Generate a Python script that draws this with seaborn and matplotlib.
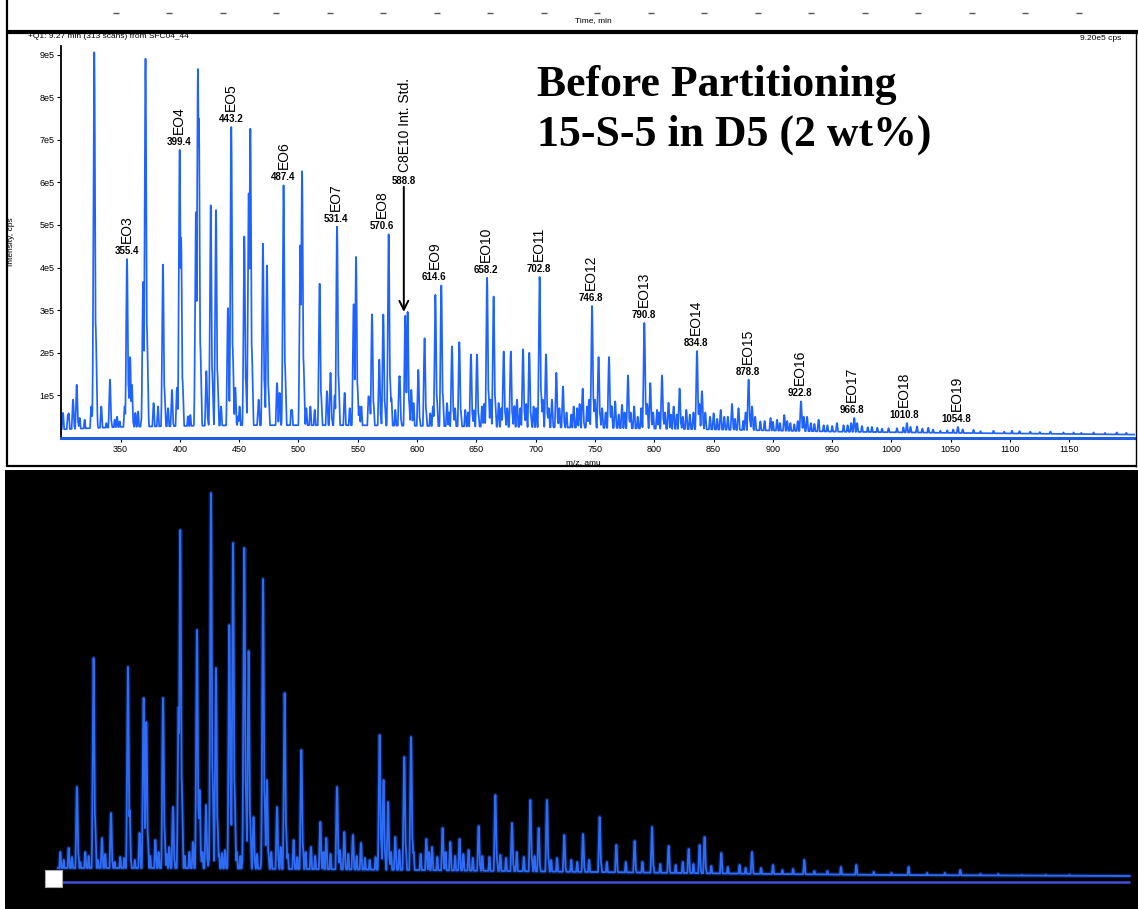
import numpy as np
import matplotlib
matplotlib.use('Agg')
import matplotlib.pyplot as plt
import seaborn as sns
from matplotlib.lines import Line2D
from matplotlib.patches import Rectangle

sns.set_style('white')
plt.rcParams['font.family'] = ['Liberation Sans', 'DejaVu Sans']
plt.rcParams['text.color'] = 'black'
plt.rcParams['axes.labelcolor'] = 'black'
plt.rcParams['xtick.color'] = 'black'
plt.rcParams['ytick.color'] = 'black'

# ---- top spectrum: peak list (m/z, intensity in 1e5 cps)
top_mz = [306.2, 313.0, 327.8, 333.7, 341.0, 347.0, 355.4, 358.0, 359.5, 362.4,
          369.0, 371.0, 377.8, 385.7, 393.3, 397.5, 399.8, 401.0, 408.8, 413.5,
          415.2, 416.0, 422.3, 426.0, 430.4, 434.7, 440.5, 443.3, 446.7, 450.3,
          454.3, 458.0, 459.4, 466.4, 470.0, 473.4, 481.9, 487.4, 494.5, 501.5,
          503.0, 510.0, 517.8, 524.0, 527.0, 532.5, 538.9, 546.5, 548.5, 551.3,
          559.1, 562.0, 568.1, 571.5, 576.0, 581.6, 585.0, 590.0, 592.0, 597.0,
          601.0, 606.3, 611.1, 615.4, 620.4, 625.2, 629.4, 635.6, 640.6, 645.4,
          650.5, 654.7, 659.0, 664.5, 668.7, 673.0, 679.0, 684.2, 689.3, 694.6,
          698.2, 703.3, 708.7, 713.7, 717.4, 723.0, 732.0, 739.6, 743.3, 747.5,
          753.0, 761.8, 767.0, 772.8, 777.8, 783.0, 791.6, 796.6, 802.3, 806.5,
          812.0, 816.3, 821.3, 827.0, 836.0, 840.2, 850.0, 856.0, 865.5, 871.0,
          879.5, 882.4, 889.4, 898.0, 903.5, 909.6, 914.7, 923.7, 928.8, 938.5,
          942.8, 954.0, 959.6, 968.6, 975.1, 983.5, 997.5, 1004.6, 1013.0, 1021.5,
          1031.0, 1041.1, 1056.0, 1069.2, 1086.0, 1101.6, 1117.0, 1134.0, 1153.5, 1170.4,
          1190.0]
top_int = [0.58, 1.25, 9.05, 0.74, 1.37, 0.50, 4.20, 1.90, 1.25, 0.59,
           3.66, 8.90, 0.82, 4.07, 1.13, 1.18, 6.76, 4.70, 0.54, 5.30,
           8.66, 7.50, 1.57, 5.46, 5.35, 0.74, 3.05, 7.30, 1.18, 0.74,
           4.73, 5.74, 7.26, 0.90, 4.56, 4.05, 1.29, 5.93, 0.66, 4.52,
           6.26, 0.74, 3.62, 1.10, 1.53, 4.96, 1.06, 3.14, 4.25, 0.74,
           0.98, 2.90, 1.84, 2.90, 4.78, 0.66, 1.44, 2.87, 2.96, 0.82,
           1.60, 2.34, 0.58, 3.36, 3.58, 0.82, 2.15, 2.25, 0.66, 1.96,
           1.96, 0.74, 3.76, 3.32, 0.82, 2.03, 2.03, 0.90, 2.08, 2.00,
           0.74, 3.78, 1.96, 0.90, 1.53, 1.21, 0.74, 1.16, 0.74, 3.10,
           1.90, 1.90, 0.86, 0.78, 1.47, 0.74, 2.70, 1.29, 0.66, 1.47,
           0.83, 0.74, 1.16, 0.66, 2.04, 1.10, 0.58, 0.66, 0.80, 0.70,
           1.37, 0.74, 0.39, 0.47, 0.43, 0.54, 0.35, 0.86, 0.50, 0.43,
           0.30, 0.35, 0.30, 0.47, 0.28, 0.26, 0.23, 0.23, 0.35, 0.27,
           0.24, 0.17, 0.26, 0.19, 0.17, 0.17, 0.15, 0.15, 0.13, 0.13,
           0.13]
# small bumps of the noisy floor (same units)
noise_mz = [301.4, 305.6, 309.9, 315.5, 319.7, 325.3, 338.0, 345.0, 349.2, 353.4,
            364.7, 367.5, 381.5, 390.0, 406.8, 412.5, 449.0, 465.9, 484.1, 493.9,
            506.6, 513.7, 530.5, 539.0, 543.2, 553.0, 560.0, 578.3, 585.3, 595.1,
            613.4, 627.0, 632.0, 643.0, 648.0, 656.5, 662.0, 671.0, 676.0, 682.0,
            687.0, 692.0, 700.5, 706.0, 711.0, 720.0, 726.0, 730.0, 735.0, 737.0,
            745.0, 750.0, 756.0, 759.0, 764.0, 770.0, 775.0, 780.0, 786.0, 789.0,
            794.0, 799.0, 804.0, 809.0, 814.0, 819.0, 824.0, 830.0, 833.0, 838.0,
            843.0, 847.0, 853.0, 859.0, 862.0, 868.0, 875.0, 877.0, 885.0, 893.0,
            900.0, 906.0, 912.0, 918.0, 921.0, 926.0, 932.0, 935.0, 946.0, 950.0,
            963.0, 966.0, 971.0, 980.0, 988.0, 992.0, 1010.0, 1016.0, 1026.0, 1035.0,
            1047.0, 1052.0, 1060.0, 1075.0, 1095.0, 1108.0, 1125.0, 1145.0, 1160.0, 1180.0,
            1198.0]
noise_int = [0.59, 0.55, 0.90, 0.47, 0.43, 0.74, 0.35, 0.43, 0.39, 0.74,
             0.62, 0.43, 0.74, 0.70, 0.51, 0.47, 0.51, 0.62, 1.06, 0.66,
             0.70, 0.66, 1.00, 0.90, 0.70, 0.74, 0.94, 0.94, 1.45, 1.13,
             0.74, 0.60, 0.70, 0.60, 0.65, 0.80, 0.90, 0.70, 0.70, 0.75,
             0.70, 0.80, 0.70, 0.90, 0.70, 0.70, 0.60, 0.55, 0.70, 0.80,
             0.90, 0.90, 0.70, 0.60, 0.75, 0.55, 0.60, 0.60, 0.50, 0.70,
             0.80, 0.60, 0.60, 0.60, 0.55, 0.55, 0.50, 0.55, 0.60, 0.80,
             0.60, 0.50, 0.45, 0.50, 0.50, 0.45, 0.40, 0.60, 0.50, 0.40,
             0.38, 0.35, 0.40, 0.32, 0.40, 0.50, 0.35, 0.33, 0.30, 0.28,
             0.30, 0.35, 0.35, 0.25, 0.24, 0.22, 0.25, 0.26, 0.22, 0.20,
             0.18, 0.20, 0.20, 0.16, 0.15, 0.16, 0.14, 0.13, 0.12, 0.12,
             0.12]
top_base_mz = [298, 350, 450, 550, 650, 750, 850, 950, 1050, 1206]
top_base = [0.20, 0.26, 0.30, 0.30, 0.27, 0.24, 0.20, 0.15, 0.12, 0.08]

eo_names = ['EO3', 'EO4', 'EO5', 'EO6', 'EO7', 'EO8', 'EO9', 'EO10', 'EO11',
            'EO12', 'EO13', 'EO14', 'EO15', 'EO16', 'EO17', 'EO18', 'EO19']
eo_mz = [355.4, 399.4, 443.2, 487.4, 531.4, 570.6, 614.6, 658.2, 702.8,
         746.8, 790.8, 834.8, 878.8, 922.8, 966.8, 1010.8, 1054.8]
std_name = 'C8E10 Int. Std.'
std_mz = 588.8

# ---- bottom spectrum (screen units above its baseline)
bot_mz = [299.2, 306.2, 313.2, 320.2, 327.2, 334.3, 341.9, 349.7, 356.2, 357.6,
          366.0, 369.4, 371.7, 379.3, 385.8, 394.2, 398.9, 400.3, 414.4, 416.6,
          422.0, 426.2, 430.4, 435.5, 441.7, 444.8, 454.3, 457.9, 462.1, 470.1,
          473.4, 481.9, 488.3, 495.9, 502.4, 510.5, 518.4, 523.4, 532.5, 538.6,
          545.9, 552.7, 568.4, 571.7, 575.5, 581.6, 589.2, 594.9, 607.8, 612.6,
          621.5, 628.0, 635.8, 643.4, 651.9, 666.0, 670.2, 680.0, 695.5, 702.5,
          709.5, 724.1, 739.9, 753.9, 768.0, 783.4, 798.1, 812.1, 829.0, 838.2,
          842.4, 856.5, 871.9, 882.4, 900.1, 926.5, 957.4, 970.3, 1014.4, 1058.0]
bot_int = [30, 34, 95, 30, 224, 44, 69, 25, 215, 72,
           49, 184, 160, 42, 184, 75, 175, 352, 252, 92,
           77, 389, 214, 29, 257, 339, 334, 231, 65, 303,
           102, 75, 189, 42, 132, 35, 60, 44, 95, 50,
           47, 39, 147, 102, 80, 45, 125, 145, 43, 35,
           54, 40, 43, 32, 56, 87, 27, 59, 82, 54,
           82, 47, 48, 65, 37, 41, 55, 36, 33, 37,
           45, 29, 17, 30, 17, 22, 15, 17, 15, 12]
bot_noise_mz = [302, 309, 316, 323, 331, 337, 345, 353, 362, 375,
                382, 389, 391, 404, 408, 411, 419, 433, 438, 448,
                451, 465, 477, 485, 491, 499, 506, 514, 521, 527,
                535, 542, 549, 556, 560, 565, 578, 585, 597, 603,
                610, 617, 624, 632, 639, 647, 655, 661, 675, 684,
                690, 699, 713, 718, 730, 735, 745, 760, 776, 790,
                805, 818, 824, 833, 848, 862, 877, 890, 908, 917,
                935, 946, 985, 1000, 1030, 1045, 1075, 1090, 1110, 1130,
                1150, 1170, 1190]
bot_noise_int = [22, 25, 20, 26, 22, 28, 20, 24, 22, 26,
                 30, 28, 35, 26, 30, 40, 30, 28, 32, 30,
                 26, 28, 30, 35, 28, 25, 30, 26, 30, 28,
                 32, 28, 26, 24, 22, 25, 30, 32, 30, 28,
                 30, 25, 30, 26, 28, 24, 26, 25, 24, 30,
                 25, 26, 22, 24, 22, 20, 22, 20, 20, 20,
                 18, 17, 20, 18, 16, 15, 14, 14, 12, 13,
                 11, 11, 10, 9, 9, 9, 8, 8, 7, 7,
                 7, 6, 6]
bot_base_mz = [297, 400, 600, 750, 900, 1000, 1201]
bot_base = [14, 14, 12, 10, 8, 7, 6]

time_ticks = [1, 2, 3, 4, 5, 6, 7, 8, 9, 10, 11, 12, 13, 14, 15, 16, 17, 18, 19]

W, H = 1138, 909


def fx(px):
    return px / W


def fy(py):
    return 1 - py / H


def profile(grid, mz, inten, base_mz, base, sigma):
    # narrow peak with an isotope shoulder and a short tail (apex stays at the listed height)
    mz = np.asarray(mz)[:, None]
    h = np.asarray(inten, dtype=float)[:, None]
    d = grid[None, :] - mz
    shape = np.maximum.reduce([np.exp(-0.5 * (d / sigma) ** 2),
                               0.3 * np.exp(-0.5 * ((d - 1.0) / (sigma * 1.3)) ** 2),
                               0.14 * np.exp(-np.abs(d) / 2.0)])
    peaks = (h * shape).max(axis=0)
    return np.maximum(np.interp(grid, base_mz, base), peaks)


def fline(x0, y0, x1, y1, lw, color='black'):
    fig.add_artist(Line2D([fx(x0), fx(x1)], [fy(y0), fy(y1)],
                          transform=fig.transFigure, color=color, lw=lw,
                          solid_capstyle='butt'))


fig = plt.figure(figsize=(W / 100, H / 100), dpi=100)
fig.patch.set_facecolor('white')

# ---------------- top panel
px_per_mz = 1.186
ax = fig.add_axes([fx(61.3), fy(438), (1135 - 61.3) / W, (438 - 46) / H])
grid = np.arange(298, 1205.3, 0.1)
spec = profile(grid, top_mz + noise_mz, top_int + noise_int,
               top_base_mz, top_base, 0.7) * 1e5
sns.lineplot(x=grid, y=spec, ax=ax, color='#1f63ff', linewidth=1.25,
             estimator=None, sort=False)
ax.set_xlim(300, 300 + (1135 - 61.3) / px_per_mz)
ax.set_ylim(0, 9.2e5)
ax.set_xticks(range(350, 1200, 50))
ax.set_xticklabels([str(v) for v in range(350, 1200, 50)])
ax.set_yticks([k * 1e5 for k in range(1, 10)])
ax.set_yticklabels([f'{k}e5' for k in range(1, 10)])
ax.tick_params(axis='both', direction='out', length=3, width=0.8, labelsize=6.5,
               pad=2, left=True, bottom=True, colors='black')
sns.despine(ax=ax)
ax.spines['left'].set_linewidth(1.3)
ax.spines['left'].set_color('black')
ax.spines['bottom'].set_color('#1f5fe0')
ax.spines['bottom'].set_linewidth(2.2)
ax.set_xlabel('m/z, amu', fontsize=6)
ax.set_ylabel('Intensity, cps', fontsize=6)
ax.xaxis.set_label_coords((583 - 61.3) / (1135 - 61.3), -(459 - 438) / (438 - 46))
ax.yaxis.set_label_coords(-(61.3 - 15) / (1135 - 61.3), 0.5)

top_mz_a = np.asarray(top_mz)
top_int_a = np.asarray(top_int) * 1e5


def local_top(m, win=6):
    sel = np.abs(top_mz_a - m) < win
    return top_int_a[sel].max()


for name, m in zip(eo_names, eo_mz):
    pk = local_top(m)
    ax.annotate(f'{m:.1f}', xy=(m, pk), xytext=(0, 5.8), textcoords='offset points',
                ha='center', va='center', fontsize=7, fontweight='bold')
    ax.annotate(name, xy=(m, pk), xytext=(0, 11.5), textcoords='offset points',
                rotation=90, ha='center', va='bottom', fontsize=10)

pk = local_top(std_mz)
ax.annotate('', xy=(std_mz, pk), xytext=(0, 90), textcoords='offset points',
            arrowprops=dict(arrowstyle='->', lw=1.4, color='black', mutation_scale=16,
                            shrinkA=0, shrinkB=0))
ax.annotate(f'{std_mz:.1f}', xy=(std_mz, pk), xytext=(0, 94.5), textcoords='offset points',
            ha='center', va='center', fontsize=7, fontweight='bold')
ax.annotate(std_name, xy=(std_mz, pk), xytext=(1, 101), textcoords='offset points',
            rotation=90, ha='center', va='bottom', fontsize=10)

fig.text(fx(537), fy(85), 'Before Partitioning', family='Liberation Serif',
         fontweight='bold', fontsize=31.5, va='center', ha='left', color='black')
fig.text(fx(537), fy(135), '15-S-5 in D5 (2 wt%)', family='Liberation Serif',
         fontweight='bold', fontsize=31.5, va='center', ha='left', color='black')
fig.text(fx(28), fy(37), '+Q1: 9.27 min (313 scans) from SFC04_44', fontsize=6,
         va='center', ha='left')
fig.text(fx(1121), fy(39), '9.20e5 cps', fontsize=6, va='center', ha='right')

# ---------------- strip of the chart above (time axis, cut off)
ax_t = fig.add_axes([fx(7), fy(31), (1138 - 7) / W, 31 / H])
ax_t.axis('off')
ax_t.set_xlim((7 - 62) / 53.5, (1138 - 62) / 53.5)
ax_t.set_ylim(0, 31)
ax_t.plot(time_ticks, [18] * len(time_ticks), ls='none', marker='_', ms=4.5, mew=1.0,
          color='#555555')
fig.text(fx(575), fy(21), 'Time, min', fontsize=6, va='center', ha='left')

# panel frame
fline(7, 0, 7, 467, 1.6)
fline(7, 31.5, 1138, 31.5, 3)
fline(7, 466, 1136, 466, 1.6)
fline(1136, 31, 1136, 467, 1.0)

# ---------------- bottom panel (dark screen capture)
ax_b = fig.add_axes([fx(5), fy(909), (1138 - 5) / W, (909 - 470) / H])
ax_b.set_facecolor('black')
grid_b = np.arange(297, 1201, 0.1)
spec_b = profile(grid_b, bot_mz + bot_noise_mz, bot_int + bot_noise_int,
                 bot_base_mz, bot_base, 0.7)
ax_b.plot(grid_b, spec_b, color='#1a3fa8', lw=3.2, alpha=0.45)
sns.lineplot(x=grid_b, y=spec_b, ax=ax_b, color='#2f6cf5', linewidth=1.3,
             estimator=None, sort=False)
ax_b.hlines(0, grid_b[0], grid_b[-1], color='#4150d6', lw=1.8)
ax_b.set_xlim(300 - (61.3 - 5) / px_per_mz, 300 + (1138 - 61.3) / px_per_mz)
ax_b.set_ylim(-27, 412)
ax_b.set_xticks([])
ax_b.set_yticks([])
ax_b.set_xlabel('')
ax_b.set_ylabel('')
for s in ax_b.spines.values():
    s.set_visible(False)
ax_b.add_patch(Rectangle((40 / 1133, 22 / 439), 17 / 1133, 17 / 439,
                         transform=ax_b.transAxes, facecolor='white',
                         edgecolor='#aaaaaa', lw=0.8, zorder=5))

fig.savefig('out.png', dpi=100)
